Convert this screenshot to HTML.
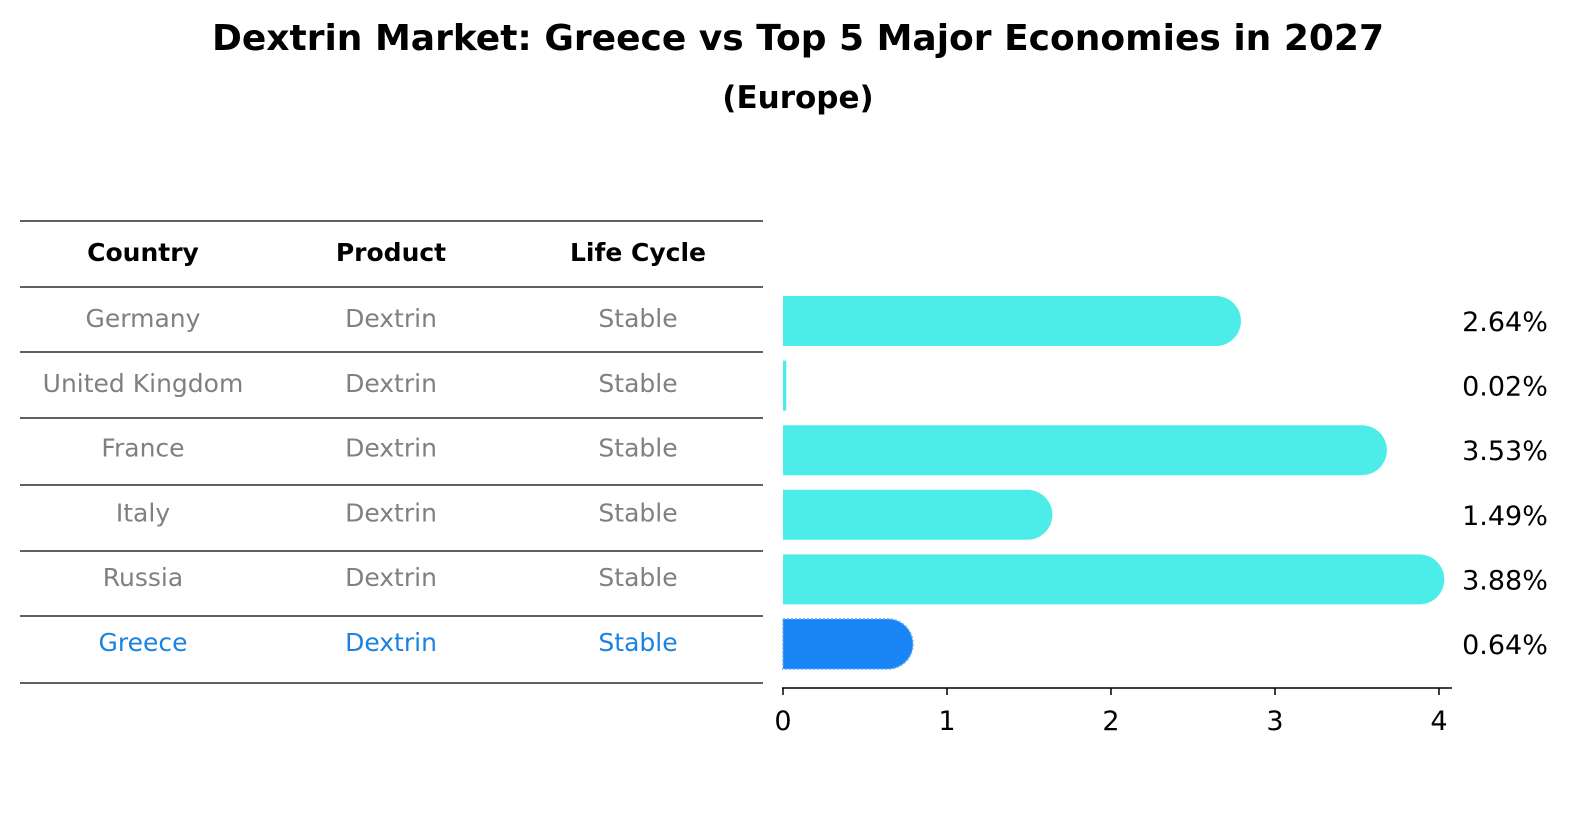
<!DOCTYPE html>
<html><head><meta charset="utf-8"><style>
html,body{margin:0;padding:0;background:#fff;overflow:hidden;width:1586px;height:823px}
svg{display:block}
svg text{font-family:"DejaVu Sans","Liberation Sans",sans-serif}
</style></head><body>
<svg id="c" width="1586" height="823" xmlns="http://www.w3.org/2000/svg">
<text x="798" y="50" text-anchor="middle" font-size="36" font-weight="bold">Dextrin Market: Greece vs Top 5 Major Economies in 2027</text>
<text x="798" y="108" text-anchor="middle" font-size="31" font-weight="bold">(Europe)</text>
<g id="table"></g>
<g id="bars"></g>
</svg>
<script>
const countries=["Germany","United Kingdom","France","Italy","Russia","Greece"];
const products=["Dextrin","Dextrin","Dextrin","Dextrin","Dextrin","Dextrin"];
const lifeCycles=["Stable","Stable","Stable","Stable","Stable","Stable"];
const values=[2.64,0.02,3.53,1.49,3.88,0.64];
const valueLabels=["2.64%","0.02%","3.53%","1.49%","3.88%","0.64%"];
const ticks=[0,1,2,3,4];
const NS="http://www.w3.org/2000/svg";
function mk(t,a,p){const e=document.createElementNS(NS,t);for(const k in a)e.setAttribute(k,a[k]);p.appendChild(e);return e;}
const x=v=>783+v*164;
const rowY=i=>321+i*64.6;
const tbl=document.getElementById('table'),bars=document.getElementById('bars');
const lines=[221,287,352,418,485,551,616,683];
lines.forEach(y=>{const l=mk('line',{x1:20,x2:763,y1:y,y2:y,stroke:'#000','stroke-width':1.2},tbl);

});
const cols=[143,391,638];
["Country","Product","Life Cycle"].forEach((h,j)=>{const t=mk('text',{x:cols[j],y:261,'text-anchor':'middle','font-size':25,'font-weight':'bold'},tbl);t.textContent=h;

});
countries.forEach((c,i)=>{const col=i===countries.length-1?'#1a82e0':'#808080';
[c,products[i],lifeCycles[i]].forEach((s,j)=>{const t=mk('text',{x:cols[j],y:rowY(i)+6+i*0.2,'text-anchor':'middle','font-size':25,fill:col},tbl);t.textContent=s;

});
const w=x(values[i])-x(0),h=50,r=25,y0=rowY(i)-h/2,fill=i===countries.length-1?'#1a85f5':'#4cede9';
let d;
if(w>r){d=`M${x(0)},${y0}H${x(0)+w}A${r},${r} 0 0 1 ${x(0)+w},${y0+h}H${x(0)}Z`;}
else{d=`M${x(0)},${y0}h${Math.max(w,3)}v${h}h${-Math.max(w,3)}Z`;}
const b=mk('path',{d:d,fill:fill},bars);
if(i===countries.length-1){b.setAttribute('stroke','#5aa8ff');b.setAttribute('stroke-dasharray','2,2');b.setAttribute('stroke-width','1.5');}


const t=mk('text',{x:1505,y:rowY(i)+10,'text-anchor':'middle','font-size':27},bars);t.textContent=valueLabels[i];


});
const ax=mk('line',{x1:782,x2:1452,y1:688,y2:688,stroke:'#000','stroke-width':1.5},bars);


ticks.forEach(v=>{const l=mk('line',{x1:x(v),x2:x(v),y1:688,y2:695,stroke:'#000','stroke-width':1.5},bars);


const t=mk('text',{x:x(v),y:730,'text-anchor':'middle','font-size':27},bars);t.textContent=v;

});
</script>
</body></html>
